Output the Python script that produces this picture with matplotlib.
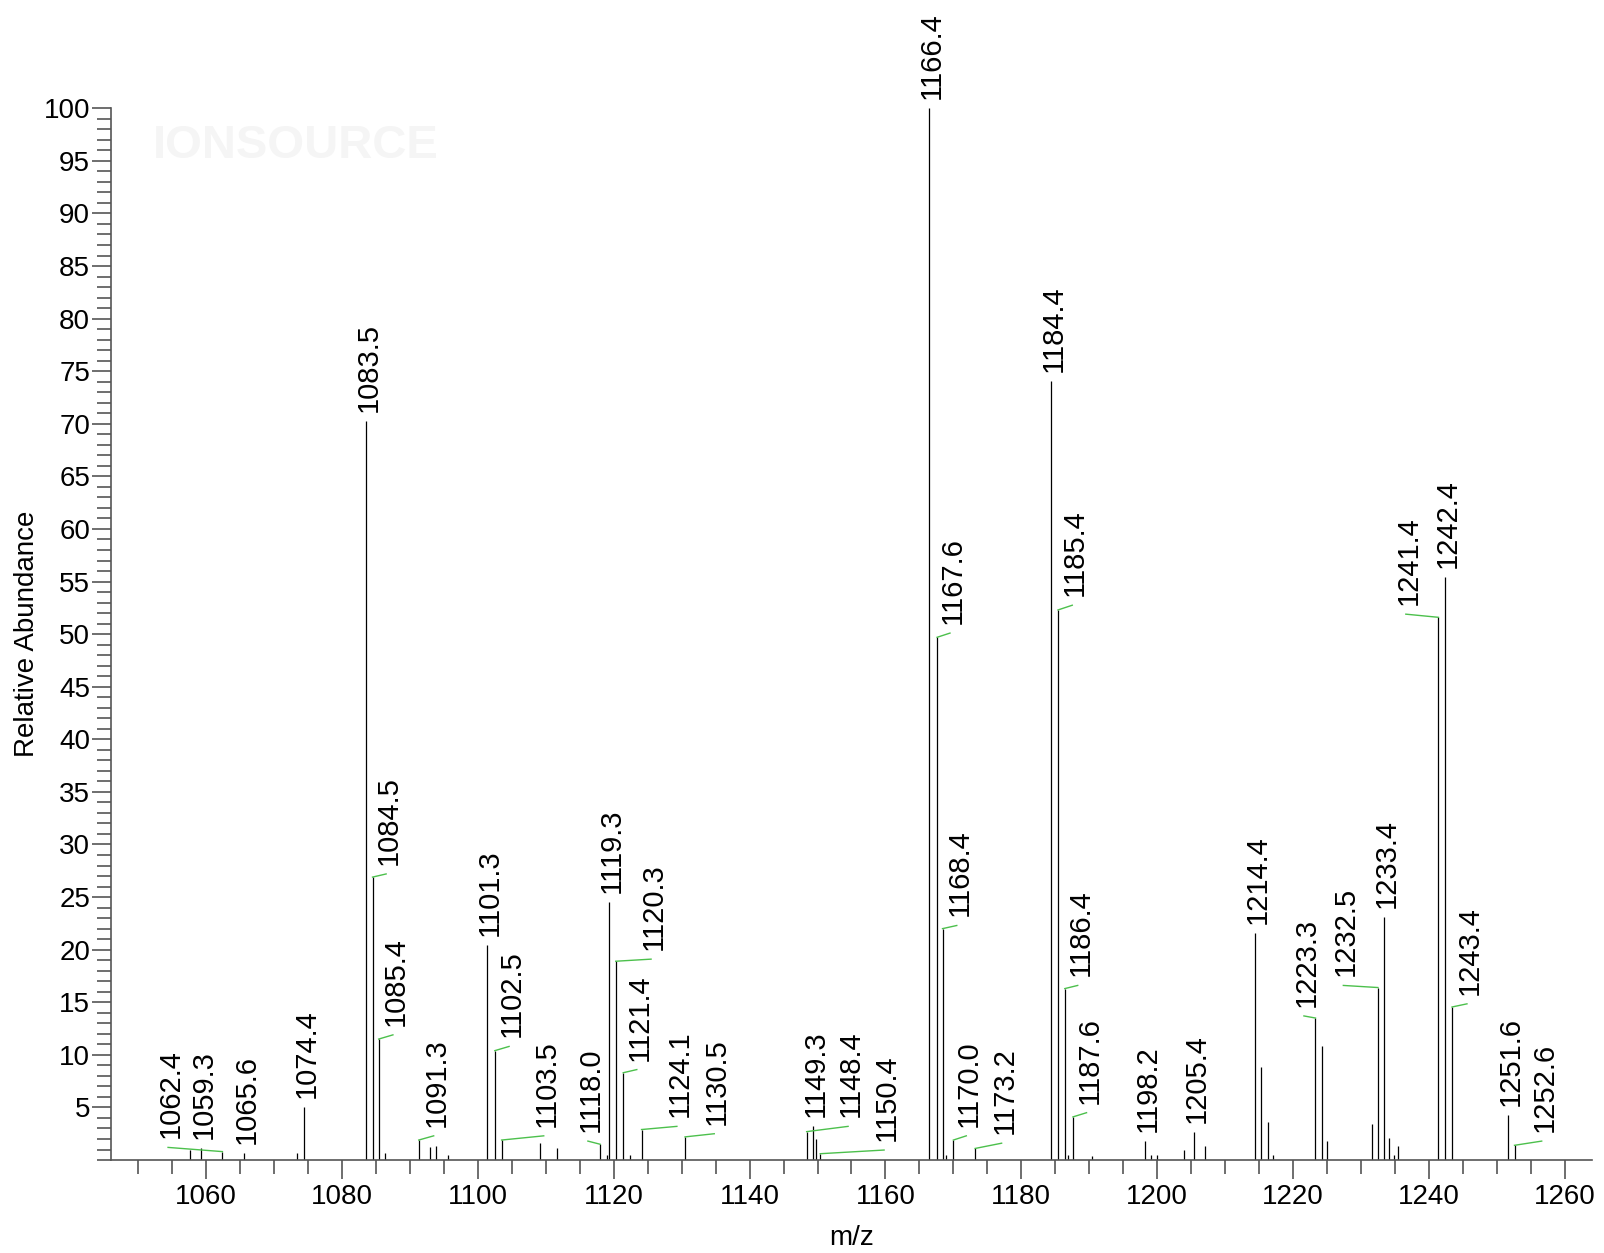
import matplotlib
matplotlib.use("Agg")
import matplotlib.pyplot as plt
from matplotlib.ticker import MultipleLocator, FixedLocator

plt.rcParams['font.family'] = ['Liberation Sans', 'DejaVu Sans']

# labelled peaks: m/z, relative abundance
peak_mz = [1059.3, 1062.4, 1065.6, 1074.4, 1083.5, 1084.5, 1085.4, 1091.3,
           1101.3, 1102.5, 1103.5, 1118.0, 1119.3, 1120.3, 1121.4, 1124.1,
           1130.5, 1148.4, 1149.3, 1150.4, 1166.4, 1167.6, 1168.4, 1170.0,
           1173.2, 1184.4, 1185.4, 1186.4, 1187.6, 1198.2, 1205.4, 1214.4,
           1223.3, 1232.5, 1233.4, 1241.4, 1242.4, 1243.4, 1251.6, 1252.6]
peak_int = [1.1, 0.8, 0.7, 5.0, 70.3, 26.9, 11.5, 1.9,
            20.4, 10.4, 1.9, 1.5, 24.5, 18.9, 8.3, 2.9,
            2.2, 2.7, 3.2, 0.6, 100.0, 49.7, 22.0, 1.9,
            1.1, 74.1, 52.3, 16.3, 4.1, 1.8, 2.7, 21.6,
            13.5, 16.4, 23.1, 51.6, 55.4, 14.55, 4.3, 1.4]
# where each label sits (None = straight above its peak)
label_x = [None, 1054.4, None, None, None, 1086.5, 1087.5, 1093.5,
           None, 1104.6, 1109.7, 1116.2, None, 1125.5, 1123.4, 1129.3,
           1134.8, 1154.5, None, 1159.8, None, 1169.5, 1170.5, 1171.9,
           1177.1, None, 1187.5, 1188.3, 1189.6, None, None, None,
           1221.6, 1227.4, None, 1236.6, None, 1245.6, None, 1256.6]
label_y = [None, 1.2, None, None, None, 27.2, 11.9, 2.3,
           None, 10.8, 2.3, 1.8, None, 19.1, 8.6, 3.2,
           2.5, 3.2, None, 0.95, None, 50.1, 22.3, 2.3,
           1.6, None, 52.75, 16.6, 4.5, None, None, None,
           13.7, 16.6, None, 51.9, None, 14.85, None, 1.8]

# small unlabelled peaks
minor_mz = [1057.7, 1073.4, 1086.3, 1092.9, 1093.9, 1095.6, 1109.2, 1111.6,
            1119.0, 1122.4, 1149.8, 1168.9, 1186.9, 1190.4, 1199.1, 1200.0,
            1203.9, 1207.0, 1215.3, 1216.35, 1217.1, 1224.3, 1225.0, 1231.6,
            1234.1, 1234.8, 1235.45]
minor_int = [0.95, 0.7, 0.7, 1.2, 1.35, 0.5, 1.6, 1.15,
             0.5, 0.5, 2.0, 0.5, 0.5, 0.4, 0.5, 0.5,
             1.0, 1.35, 8.8, 3.6, 0.5, 10.8, 1.8, 3.4,
             2.05, 0.5, 1.35]

fig = plt.figure(figsize=(16.04, 12.53), dpi=100)
ax = fig.add_axes([0.0692, 0.0742, 0.9233, 0.8394])

ax.vlines(peak_mz, 0, peak_int, color='black', lw=0.9)
ax.vlines(minor_mz, 0, minor_int, color='black', lw=0.9)

for mz, y, lx, ly in zip(peak_mz, peak_int, label_x, label_y):
    if lx is None:
        lx, ly = mz, y
    else:
        ax.plot([mz, lx], [y, ly], color='#4cc04c', lw=1.0)
    ax.annotate('%.1f' % mz, xy=(lx, ly), xytext=(2, 6.5), textcoords='offset points',
                rotation=90, ha='center', va='bottom', fontsize=21,
                annotation_clip=False)

# watermark
ax.text(0.028, 0.985, 'IONSOURCE', transform=ax.transAxes, fontsize=34,
        fontweight='bold', color='#f5f5f5', ha='left', va='top', zorder=0)

ax.set_xlim(1046, 1264)
ax.set_ylim(0, 100)
ax.xaxis.set_major_locator(MultipleLocator(20))
ax.xaxis.set_minor_locator(MultipleLocator(5))
ax.yaxis.set_major_locator(FixedLocator(list(range(5, 101, 5))))
ax.yaxis.set_minor_locator(MultipleLocator(1))

for side in ['top', 'right']:
    ax.spines[side].set_visible(False)
for side in ['left', 'bottom']:
    ax.spines[side].set_color('#555555')
    ax.spines[side].set_linewidth(1.2)

ax.tick_params(which='major', length=14, width=1.2, color='#555555',
               labelsize=20, pad=3)
ax.tick_params(which='minor', length=10, width=1.2, color='#555555')
ax.tick_params(axis='y', which='major', pad=1)

ax.set_xlabel('m/z', fontsize=20)
ax.set_ylabel('Relative Abundance', fontsize=20)
ax.xaxis.set_label_coords(0.5, -0.062)
ax.yaxis.set_label_coords(-0.048, 0.5)

fig.savefig('out.png', dpi=100)
